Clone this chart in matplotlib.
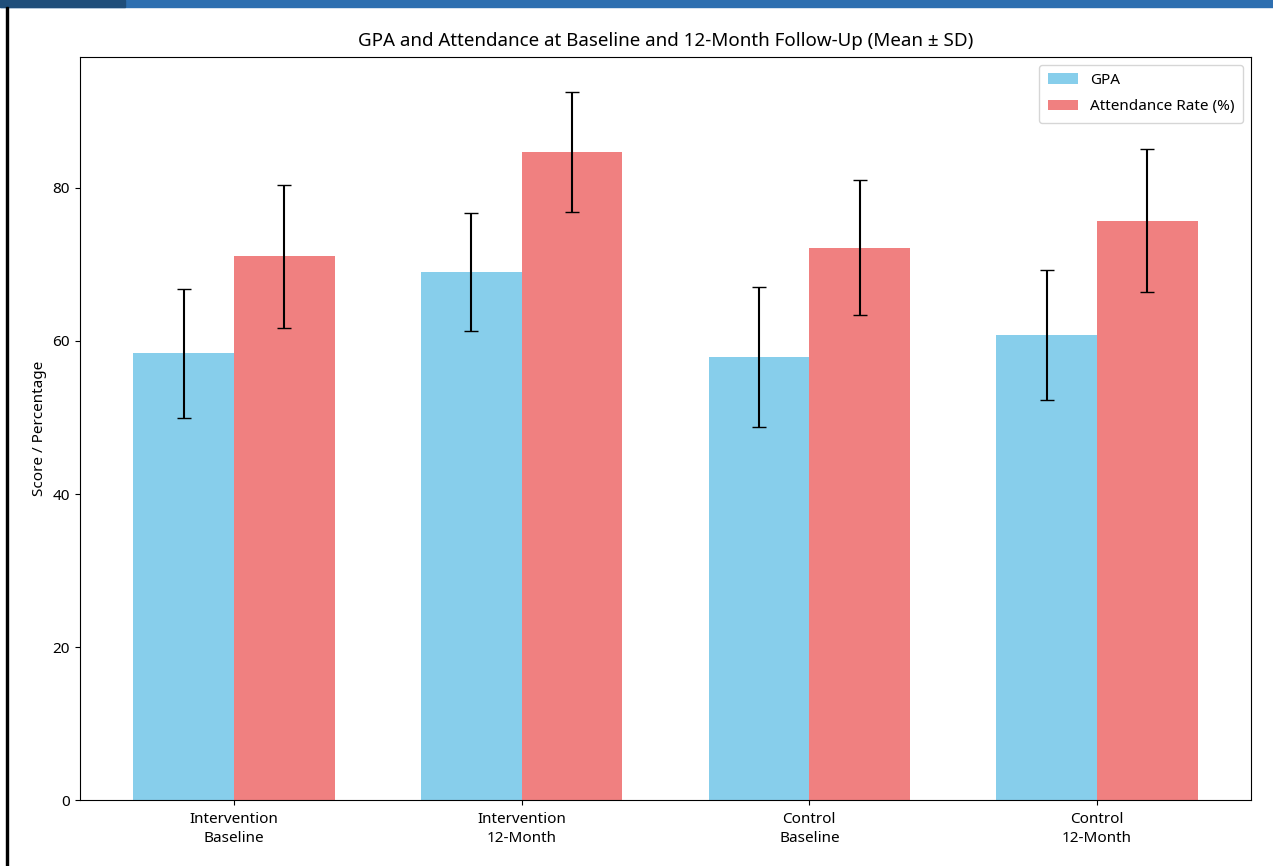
import numpy as np
import matplotlib
matplotlib.use('Agg')
import matplotlib.pyplot as plt
from matplotlib.patches import Rectangle

groups = ['Intervention\nBaseline', 'Intervention\n12-Month', 'Control\nBaseline', 'Control\n12-Month']
gpa_mean = [58.4, 69.0, 57.9, 60.8]
gpa_sd = [8.45, 7.7, 9.15, 8.45]
att_mean = [71.1, 84.7, 72.2, 75.7]
att_sd = [9.35, 7.8, 8.8, 9.35]

plt.rcParams['font.family'] = ['Noto Sans', 'DejaVu Sans']
plt.rcParams['font.size'] = 11

fig = plt.figure(figsize=(12.73, 8.66), dpi=100)
ax = fig.add_axes([0.0628, 0.0762, 0.9199, 0.858])

width = 0.35
x = np.arange(len(groups))

ax.bar(x - width/2, gpa_mean, width, yerr=gpa_sd, capsize=5, color='skyblue', label='GPA')
ax.bar(x + width/2, att_mean, width, yerr=att_sd, capsize=5, color='lightcoral', label='Attendance Rate (%)')

ax.set_xticks(x)
ax.set_xticklabels(groups, linespacing=1.4)
ax.tick_params(axis='x', pad=5)
ax.set_ylabel('Score / Percentage')
ax.set_title('GPA and Attendance at Baseline and 12-Month Follow-Up (Mean ± SD)', fontsize=13.5, pad=8)
ax.legend(labelspacing=0.75, borderpad=0.55)

# screenshot frame
fig.patches.append(Rectangle((0, 0.992), 1, 0.008, transform=fig.transFigure, color='#2e6fb0', zorder=0))
fig.patches.append(Rectangle((0, 0.992), 0.098, 0.008, transform=fig.transFigure, color='#1f4e7a', zorder=0))
fig.patches.append(Rectangle((0.0047, 0), 0.0016, 0.992, transform=fig.transFigure, color='black', zorder=0))

fig.savefig('out.png', dpi=100)
